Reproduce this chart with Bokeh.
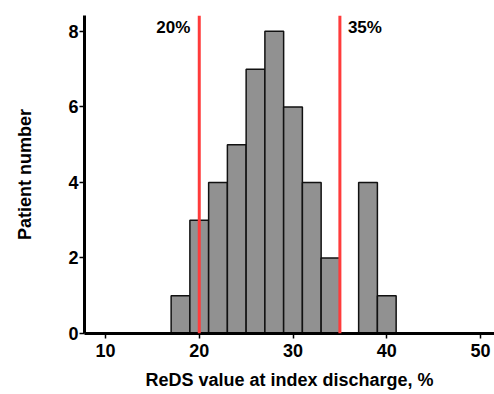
from bokeh.plotting import figure
from bokeh.models import Range1d, FixedTicker, Span, Label
from bokeh.embed import file_html
from bokeh.resources import INLINE

bin_left = [17, 19, 21, 23, 25, 27, 29, 31, 33, 35, 37, 39]
counts = [1, 3, 4, 5, 7, 8, 6, 4, 2, 0, 4, 1]
bin_width = 2
thresholds = [20, 35]
threshold_labels = ["20%", "35%"]
x_ticks = [10, 20, 30, 40, 50]
y_ticks = [0, 2, 4, 6, 8]

FONT = "Liberation Sans"

p = figure(width=494, height=394, output_backend="svg", toolbar_location=None,
           x_range=Range1d(7.76, 51.49), y_range=Range1d(0, 8.42),
           min_border_left=84, min_border_right=0, min_border_top=15, min_border_bottom=61)
p.outline_line_color = None
p.grid.visible = False
p.background_fill_color = "white"

bl = [b for b, c in zip(bin_left, counts) if c > 0]
br = [b + bin_width for b, c in zip(bin_left, counts) if c > 0]
bc = [c for c in counts if c > 0]
p.quad(left=bl, right=br, bottom=0, top=bc, fill_color="#919191",
       line_color="#111111", line_width=1.5)

for t, lab in zip(thresholds, threshold_labels):
    p.add_layout(Span(location=t, dimension="height", line_color="#ff3b3b", line_width=3))
    left_side = t < 30
    p.add_layout(Label(x=t, y=8.42, x_offset=-9 if left_side else 8, y_offset=-2, text=lab,
                       text_align="right" if left_side else "left", text_baseline="top",
                       text_font=FONT, text_font_style="bold", text_font_size="17px",
                       text_color="black"))

for ax in (p.xaxis[0], p.yaxis[0]):
    ax.axis_line_width = 3
    ax.axis_line_color = "black"
    ax.major_tick_line_width = 1.5
    ax.major_tick_out = 5
    ax.major_tick_in = 0
    ax.minor_tick_out = 0
    ax.minor_tick_in = 0
    ax.major_label_text_font = FONT
    ax.major_label_text_font_style = "bold"
    ax.major_label_text_font_size = "18px"
    ax.major_label_text_color = "black"
    ax.axis_label_text_font = FONT
    ax.axis_label_text_font_style = "bold"
    ax.axis_label_text_color = "black"

p.xaxis.axis_label_text_font_size = "18px"
p.yaxis.axis_label_text_font_size = "18px"
p.xaxis.ticker = FixedTicker(ticks=x_ticks)
p.yaxis.ticker = FixedTicker(ticks=y_ticks)
p.xaxis.axis_label = "ReDS value at index discharge, %"
p.yaxis.axis_label = "Patient number"
p.xaxis.major_label_standoff = 5
p.yaxis.major_label_standoff = 1
p.xaxis.axis_label_standoff = 10
p.yaxis.axis_label_standoff = 30

open("out.html", "w").write(file_html(p, INLINE))
